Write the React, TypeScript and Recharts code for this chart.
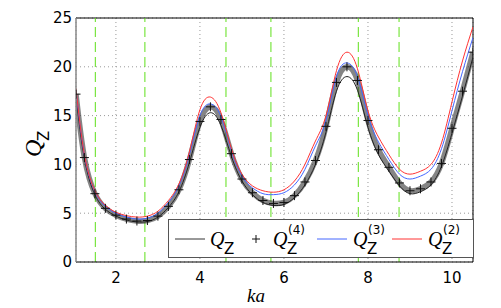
import { LineChart, Line, XAxis, YAxis, CartesianGrid, ReferenceLine } from "recharts"

// ka sample points
const ka = [
  1.05, 1.25, 1.5, 1.75, 2.0, 2.25, 2.5, 2.75, 3.0, 3.25, 3.5, 3.75, 4.0, 4.25, 4.5, 4.75, 5.0, 5.25, 5.5, 5.75,
  6.0, 6.25, 6.5, 6.75, 7.0, 7.25, 7.5, 7.75, 8.0, 8.25, 8.5, 8.75, 9.0, 9.25, 9.5, 9.75, 10.0, 10.25, 10.5,
]

// Q_Z (exact)
const qz = [
  17.0, 10.6, 6.9, 5.4, 4.7, 4.3, 4.1, 4.15, 4.6, 5.6, 7.2, 10.2, 13.8, 15.3, 14.0, 10.8, 8.3, 6.9, 6.1, 5.8,
  5.9, 6.6, 7.9, 10.0, 13.3, 17.5, 19.0, 17.6, 13.8, 11.0, 9.3, 7.8, 7.0, 7.2, 7.9, 9.8, 13.2, 17.0, 21.0,
]

// Q_Z^(4)
const qz4 = [
  17.2, 10.7, 7.0, 5.5, 4.8, 4.4, 4.2, 4.25, 4.7, 5.7, 7.4, 10.5, 14.4, 15.9, 14.6, 11.1, 8.5, 7.1, 6.3, 6.0,
  6.1, 6.8, 8.2, 10.4, 13.9, 18.4, 20.0, 18.6, 14.5, 11.5, 9.7, 8.1, 7.3, 7.5, 8.2, 10.1, 13.7, 17.5, 21.5,
]

// Q_Z^(3)
const qz3 = [
  17.6, 10.9, 7.2, 5.7, 5.0, 4.6, 4.4, 4.5, 5.0, 6.1, 7.8, 11.0, 15.0, 16.2, 14.9, 11.4, 8.8, 7.6, 7.0, 6.9,
  7.1, 7.9, 9.5, 11.9, 14.5, 19.0, 20.4, 19.0, 15.0, 12.3, 10.5, 9.0, 8.5, 8.8, 9.5, 11.6, 15.5, 19.5, 23.0,
]

// Q_Z^(2)
const qz2 = [
  17.8, 11.0, 7.3, 5.8, 5.1, 4.75, 4.6, 4.7, 5.2, 6.3, 8.0, 11.3, 15.6, 16.9, 15.3, 11.6, 9.0, 7.8, 7.3, 7.15,
  7.4, 8.3, 10.0, 12.4, 15.0, 19.6, 21.5, 19.8, 15.5, 12.8, 11.0, 9.5, 9.0, 9.3, 10.0, 12.2, 16.4, 20.6, 24.1,
]

const xTicks = [2, 4, 6, 8, 10]
const yTicks = [0, 5, 10, 15, 20, 25]
const greenLines = [1.51, 2.69, 4.62, 5.69, 7.77, 8.74]

const data = ka.map((k, i) => ({ ka: k, qz: qz[i], qz4: qz4[i], qz3: qz3[i], qz2: qz2[i] }))

const tickStyle = { fontSize: 15, fill: "#000", fontFamily: "DejaVu Sans" }

const PlusDot = (props: any) => {
  const { cx, cy } = props
  if (cx == null || cy == null) return null
  return <path d={`M${cx - 4.5},${cy}H${cx + 4.5}M${cx},${cy - 4.5}V${cy + 4.5}`} stroke="#111" strokeWidth={1} fill="none" />
}

const QLabel = ({ x, y, sup }: { x: number; y: number; sup?: string }) => (
  <g>
    <text x={x} y={y} fontFamily="Liberation Serif" fontStyle="italic" fontSize={20} fill="#000">Q</text>
    <text x={x + 14} y={y + 8} fontFamily="DejaVu Sans" fontSize={15} fill="#000">Z</text>
    {sup && <text x={x + 15} y={y - 12} fontFamily="DejaVu Sans" fontSize={12} fill="#000">{sup}</text>}
  </g>
)

export default function App() {
  return (
    <div style={{ position: "absolute", left: 0, top: 0, width: 501, height: 308, background: "#fff" }}>
      <LineChart width={501} height={308} data={data} margin={{ top: 18, right: 28, bottom: 0, left: 0 }}>
        <CartesianGrid stroke="#999" strokeDasharray="1 3" />
        <XAxis
          dataKey="ka"
          type="number"
          domain={[1.05, 10.5]}
          ticks={xTicks}
          allowDataOverflow
          height={46}
          tick={tickStyle}
          tickLine={false}
          tickMargin={4}
          stroke="#000"
        />
        <YAxis
          type="number"
          domain={[0, 25]}
          ticks={yTicks}
          allowDataOverflow
          width={76}
          tick={tickStyle}
          tickLine={false}
          tickSize={4}
          tickMargin={0}
          stroke="#888"
          strokeWidth={1.5}
        />
        <ReferenceLine y={25} stroke="#000" />
        <ReferenceLine x={10.5} stroke="#000" />
        {greenLines.map((g) => (
          <ReferenceLine key={g} x={g} stroke="#5fe01a" strokeDasharray="10 5" />
        ))}
        <Line type="natural" dataKey="qz4" stroke="#333" strokeOpacity={0.6} strokeWidth={5.5} dot={<PlusDot />} isAnimationActive={false} />
        <Line type="natural" dataKey="qz" stroke="#222" strokeWidth={1} dot={false} isAnimationActive={false} />
        <Line type="natural" dataKey="qz3" stroke="#4466ff" strokeWidth={1} dot={false} isAnimationActive={false} />
        <Line type="natural" dataKey="qz2" stroke="#ff3333" strokeWidth={1} dot={false} isAnimationActive={false} />
      </LineChart>
      <svg width={501} height={308} style={{ position: "absolute", left: 0, top: 0, pointerEvents: "none" }}>
        <g transform="translate(168,219)">
          <rect x={0.5} y={0.5} width={305} height={38} fill="#fff" stroke="#555" />
          <line x1={7} x2={37} y1={20} y2={20} stroke="#333" />
          <QLabel x={42} y={27} />
          <path d="M84,20H92M88,16V24" stroke="#111" />
          <QLabel x={105} y={27} sup="(4)" />
          <line x1={149} x2={179} y1={20} y2={20} stroke="#4466ff" />
          <QLabel x={185} y={27} sup="(3)" />
          <line x1={224} x2={254} y1={20} y2={20} stroke="#ff3333" />
          <QLabel x={260} y={27} sup="(2)" />
        </g>
        <text x={256} y={302} textAnchor="middle" fontFamily="Liberation Serif" fontStyle="italic" fontSize={19} fill="#000">
          ka
        </text>
        <g transform="translate(41,157) rotate(-90)">
          <text x={0} y={0} fontFamily="Liberation Serif" fontStyle="italic" fontSize={24} fill="#000">Q</text>
          <text x={16} y={8} fontFamily="DejaVu Sans" fontSize={15} fill="#000">Z</text>
        </g>
      </svg>
    </div>
  )
}
